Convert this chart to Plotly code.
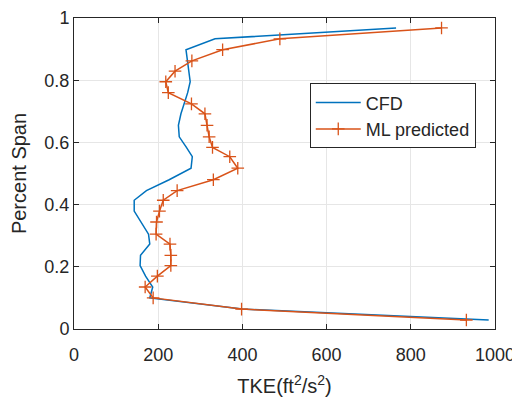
# TKE profile along span: CFD vs ML prediction
import plotly.graph_objects as go

# Percent span levels
span = [0.968, 0.933, 0.898, 0.862, 0.829, 0.795, 0.760, 0.724, 0.692, 0.655,
        0.618, 0.584, 0.554, 0.517, 0.480, 0.445, 0.414, 0.379, 0.344, 0.305,
        0.273, 0.237, 0.204, 0.170, 0.135, 0.100, 0.064, 0.029]

# TKE values (ft^2/s^2)
tke_cfd = [765, 335, 266, 270, 273, 276, 270, 261, 254, 248,
           250, 267, 281, 278, 226, 172, 143, 143, 160, 177,
           180, 158, 157, 170, 187, 180, 400, 985]
tke_ml = [873, 489, 353, 280, 240, 218, 224, 279, 311, 316,
          321, 329, 370, 389, 331, 245, 212, 203, 196, 195,
          228, 230, 230, 198, 169, 188, 398, 932]

x_ticks = [0, 200, 400, 600, 800, 1000]
y_ticks = [0, 0.2, 0.4, 0.6, 0.8, 1]
y_tick_labels = ['0', '0.2', '0.4', '0.6', '0.8', '1']

fig = go.Figure()
fig.add_trace(go.Scatter(x=tke_cfd, y=span, mode='lines', name='CFD',
                         line=dict(color='#0072BD', width=1.5)))
fig.add_trace(go.Scatter(x=tke_ml, y=span, mode='lines+markers', name='ML predicted',
                         line=dict(color='#D95319', width=1.5),
                         marker=dict(symbol='cross-thin', size=9,
                                     line=dict(color='#D95319', width=1.3))))

axis_style = dict(showline=True, linecolor='#262626', linewidth=1, mirror='ticks',
                  ticks='inside', ticklen=5, tickcolor='#262626', automargin=False,
                  ticklabeloverflow='allow',
                  showgrid=True, gridcolor='#e6e6e6', gridwidth=1, zeroline=False,
                  tickfont=dict(size=18, color='#262626'))

fig.update_xaxes(range=[0, 1000], tickvals=x_ticks, ticklabelstandoff=9,
                 title=dict(text='TKE(ft<sup>2</sup>/s<sup>2</sup>)', font=dict(size=20, color='#262626')),
                 **axis_style)
fig.update_yaxes(range=[0, 1], tickvals=y_ticks, ticktext=y_tick_labels,
                 title=dict(text='Percent Span', font=dict(size=20, color='#262626')),
                 **axis_style)

# the page puts the figure 8px in from the top-left corner, so offset margins
fig.update_layout(
    width=512, height=392,
    margin=dict(l=66, r=25, t=10, b=71),
    paper_bgcolor='white', plot_bgcolor='white',
    font=dict(family='Liberation Sans, Arial, sans-serif', color='#262626'),
    legend=dict(x=0.56, y=0.79, xanchor='left', yanchor='top',
                bordercolor='#262626', borderwidth=1, bgcolor='white',
                font=dict(size=18), itemwidth=45, tracegroupgap=0),
)

fig.write_html("out.html")
